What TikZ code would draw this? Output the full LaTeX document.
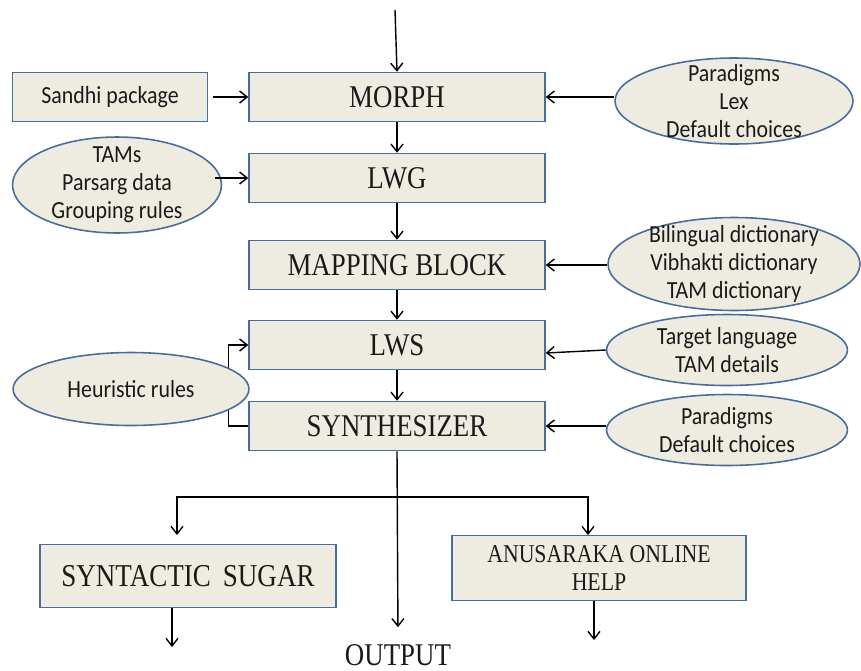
\documentclass[tikz,border=0pt]{standalone}
\usepackage{fontspec}
\setmainfont{Liberation Serif}[FakeStretch=0.85]
\newfontfamily\ovalfont{Carlito}[FakeStretch=0.89]
\usepackage{tikz}
\usetikzlibrary{positioning,arrows.meta,shapes.geometric}
\definecolor{anfundo}{HTML}{EEECE1}
\definecolor{anborda}{HTML}{4A6C9B}
\definecolor{antexto}{HTML}{1A1A1A}
\tikzset{
  anbox/.style={draw=anborda, fill=anfundo, line width=0.9pt, align=center, inner sep=0pt,
                minimum width=5.92cm, minimum height=0.98cm, text=antexto,
                font=\fontsize{18}{21}\selectfont},
  anoval/.style={ellipse, draw=anborda, fill=anfundo, line width=0.9pt, inner sep=0pt},
  anovaltext/.style={align=center, text=antexto, font=\ovalfont\fontsize{14}{15.9}\selectfont},
  anarrow/.style={-{Straight Barb[length=1.5mm,width=2.4mm]}, line width=0.8pt},
  anline/.style={line width=0.8pt},
}

\begin{document}
\begin{tikzpicture}[x=0.02cm, y=-0.02cm,
            src/.style={anbox, minimum width=3.9cm, font=\ovalfont\fontsize{14}{16}\selectfont},
            outbox/.style={anbox, minimum height=1.26cm}
        ]
            \useasboundingbox (0,0) rectangle (861,670);
            % main chain
            \node[anbox] (morph) at (397,97) {MORPH};
            \node[anbox] (lwg) at (397,178) {LWG};
            \node[anbox] (mapping) at (397,265) {MAPPING BLOCK};
            \node[anbox] (lws) at (397,345) {LWS};
            \node[anbox] (synth) at (397,426) {SYNTHESIZER};
            \node[src] (sandhi) at (110,97) {Sandhi package};
            \node[outbox, font=\fontsize{18.1}{21}\selectfont] (sugar) at (188,576) {SYNTACTIC\, SUGAR};
            \node[outbox, minimum width=5.88cm, minimum height=1.3cm, font=\fontsize{14.6}{16}\selectfont] (help) at (599,568) {ANUSARAKA ONLINE\\HELP};
            \node[text=antexto, font=\fontsize{18}{21}\selectfont] (output) at (398,655) {OUTPUT};
            \coordinate (input) at (395,10);
            \coordinate (split) at (397,497);
            \coordinate (sugarin) at (177,535);
            \coordinate (helpin) at (588,535);
            \coordinate (sugarout) at (172,647);
            \coordinate (helpout) at (594,640);
            % heuristic loop runs behind the oval
            \draw[anarrow] (synth.west) -- ++(-20,0) |- (lws.west);
            % data ovals
            \node[anoval, minimum width=4.76cm, minimum height=1.72cm,
                  label={[anovaltext]center:{Paradigms\\Lex\\Default choices}}] (para1) at (734,101) {};
            \node[anoval, minimum width=4.18cm, minimum height=1.92cm,
                  label={[anovaltext]center:{TAMs\\Parsarg data\\Grouping rules}}] (tams) at (117,185) {};
            \node[anoval, minimum width=5.04cm, minimum height=1.86cm,
                  label={[anovaltext]center:{Bilingual dictionary\\Vibhakti dictionary\\TAM dictionary}}] (dict) at (734,264) {};
            \node[anoval, minimum width=4.82cm, minimum height=1.42cm,
                  label={[anovaltext]center:{Target language\\TAM details}}] (target) at (727,350) {};
            \node[anoval, minimum width=4.72cm, minimum height=1.46cm,
                  label={[anovaltext]center:{Heuristic rules}}] (heur) at (131,389) {};
            \node[anoval, minimum width=4.82cm, minimum height=1.42cm,
                  label={[anovaltext]center:{Paradigms\\Default choices}}] (para2) at (727,430) {};
            % connectors
            \draw[anarrow] (input) -- (morph.north);
            \draw[anarrow] (morph) -- (lwg);
            \draw[anarrow] (lwg) -- (mapping);
            \draw[anarrow] (mapping) -- (lws);
            \draw[anarrow] (lws) -- (synth);
            \draw[anarrow, shorten <=1mm] (sandhi.east) -- (morph.west);
            \draw[anarrow] (para1.west |- morph.east) -- (morph.east);
            \draw[anarrow] ([xshift=-1.4mm]tams.east |- lwg.west) -- (lwg.west);
            \draw[anarrow] (dict.west |- mapping.east) -- (mapping.east);
            \draw[anarrow] (target.west) -- ([yshift=-1.6mm]lws.east);
            \draw[anarrow] (para2.west |- synth.east) -- (synth.east);
            \draw[anarrow, shorten >=2.2mm] (synth.south) -- (output.north);
            \draw[anarrow] (split) -| (sugarin);
            \draw[anarrow] (split) -| (helpin);
            \draw[anarrow] (sugar.south -| sugarout) -- (sugarout);
            \draw[anarrow] (help.south -| helpout) -- (helpout);
        \end{tikzpicture}
\end{document}
